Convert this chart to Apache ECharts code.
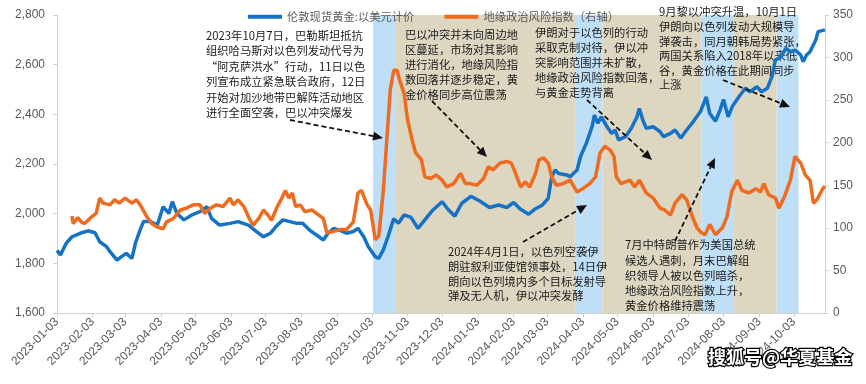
<!DOCTYPE html>
<html><head><meta charset="utf-8">
<script src="https://cdn.jsdelivr.net/npm/echarts@6/dist/echarts.min.js"></script>
<style>html,body{margin:0;padding:0;background:#fff}#c{width:866px;height:384px}</style>
</head><body><div id="c"></div>
<script>
const legendNames = ['伦敦现货黄金:以美元计价', '地缘政治风险指数（右轴）'];

const goldDates = ['2023-01-03','2023-01-06','2023-01-11','2023-01-16','2023-01-23','2023-01-30','2023-02-05','2023-02-09','2023-02-15','2023-02-18','2023-02-24','2023-02-28','2023-03-04','2023-03-09','2023-03-12','2023-03-16','2023-03-19','2023-03-25','2023-03-31','2023-04-05','2023-04-10','2023-04-13','2023-04-17','2023-04-23','2023-04-30','2023-05-07','2023-05-13','2023-05-17','2023-05-24','2023-06-02','2023-06-09','2023-06-18','2023-06-25','2023-07-01','2023-07-07','2023-07-13','2023-07-18','2023-07-24','2023-07-30','2023-08-04','2023-08-10','2023-08-16','2023-08-22','2023-08-26','2023-08-31','2023-09-05','2023-09-11','2023-09-17','2023-09-21','2023-09-26','2023-09-30','2023-10-06','2023-10-09','2023-10-13','2023-10-17','2023-10-22','2023-10-26','2023-10-31','2023-11-06','2023-11-12','2023-11-18','2023-11-25','2023-12-03','2023-12-08','2023-12-14','2023-12-20','2023-12-28','2024-01-05','2024-01-13','2024-01-21','2024-01-28','2024-02-03','2024-02-09','2024-02-16','2024-02-22','2024-02-28','2024-03-04','2024-03-07','2024-03-10','2024-03-13','2024-03-20','2024-03-23','2024-03-29','2024-04-01','2024-04-06','2024-04-11','2024-04-13','2024-04-16','2024-04-19','2024-04-24','2024-04-28','2024-05-01','2024-05-04','2024-05-10','2024-05-15','2024-05-20','2024-05-22','2024-05-25','2024-05-28','2024-06-03','2024-06-09','2024-06-12','2024-06-18','2024-06-22','2024-06-27','2024-07-02','2024-07-08','2024-07-14','2024-07-19','2024-07-22','2024-07-27','2024-07-31','2024-08-03','2024-08-07','2024-08-11','2024-08-17','2024-08-22','2024-08-26','2024-09-01','2024-09-05','2024-09-10','2024-09-14','2024-09-17','2024-09-22','2024-09-26','2024-09-30','2024-10-04','2024-10-09','2024-10-11','2024-10-14','2024-10-17','2024-10-22','2024-10-24','2024-10-30'];
const goldValues = [1852,1834,1881,1907,1921,1931,1923,1887,1867,1847,1813,1827,1840,1820,1881,1934,1968,1968,1954,2028,2001,2048,2001,1975,1995,2008,2028,1981,1954,1961,1968,1954,1928,1907,1921,1954,1975,1968,1961,1961,1934,1914,1894,1921,1941,1934,1921,1928,1941,1907,1867,1827,1820,1854,1907,1980,1961,1995,1985,1941,1975,2015,2048,2018,1990,2042,2070,2050,2025,2035,2025,2045,2018,1998,2020,2035,2062,2149,2176,2162,2156,2149,2176,2230,2283,2350,2397,2364,2390,2350,2323,2337,2297,2310,2344,2390,2424,2377,2344,2350,2330,2310,2323,2337,2305,2337,2372,2411,2470,2404,2372,2417,2460,2390,2435,2475,2505,2491,2511,2491,2505,2552,2619,2632,2666,2652,2659,2639,2612,2639,2652,2699,2733,2740];

const gprDates = ['2023-01-16','2023-01-17','2023-01-21','2023-01-24','2023-01-27','2023-02-02','2023-02-06','2023-02-09','2023-02-12','2023-02-18','2023-02-22','2023-02-26','2023-03-03','2023-03-09','2023-03-13','2023-03-17','2023-03-22','2023-03-26','2023-03-31','2023-04-05','2023-04-08','2023-04-14','2023-04-20','2023-04-25','2023-05-01','2023-05-07','2023-05-11','2023-05-16','2023-05-21','2023-05-27','2023-06-02','2023-06-05','2023-06-09','2023-06-14','2023-06-18','2023-06-22','2023-06-27','2023-07-01','2023-07-05','2023-07-08','2023-07-13','2023-07-17','2023-07-20','2023-07-23','2023-07-26','2023-07-29','2023-08-02','2023-08-06','2023-08-12','2023-08-16','2023-08-22','2023-08-25','2023-08-31','2023-09-05','2023-09-11','2023-09-17','2023-09-21','2023-09-24','2023-09-29','2023-10-02','2023-10-06','2023-10-09','2023-10-13','2023-10-16','2023-10-19','2023-10-22','2023-10-25','2023-10-27','2023-10-31','2023-11-03','2023-11-07','2023-11-10','2023-11-15','2023-11-18','2023-11-23','2023-11-28','2023-12-03','2023-12-07','2023-12-13','2023-12-19','2023-12-23','2023-12-27','2024-01-02','2024-01-08','2024-01-12','2024-01-16','2024-01-22','2024-01-28','2024-02-01','2024-02-04','2024-02-09','2024-02-13','2024-02-17','2024-02-22','2024-02-25','2024-02-29','2024-03-04','2024-03-07','2024-03-11','2024-03-17','2024-03-23','2024-03-29','2024-04-03','2024-04-09','2024-04-14','2024-04-18','2024-04-22','2024-04-27','2024-04-30','2024-05-02','2024-05-06','2024-05-14','2024-05-18','2024-05-22','2024-05-28','2024-06-03','2024-06-09','2024-06-13','2024-06-18','2024-06-22','2024-06-28','2024-07-02','2024-07-07','2024-07-11','2024-07-15','2024-07-18','2024-07-22','2024-07-27','2024-08-02','2024-08-06','2024-08-10','2024-08-15','2024-08-19','2024-08-25','2024-08-31','2024-09-04','2024-09-07','2024-09-11','2024-09-17','2024-09-20','2024-09-25','2024-09-30','2024-10-04','2024-10-09','2024-10-13','2024-10-17','2024-10-20','2024-10-23','2024-10-28','2024-10-30'];
const gprValues = [114,105,112,107,105,113,117,135,129,127,133,129,135,129,133,125,113,105,101,99,107,111,121,123,127,127,117,123,127,125,135,127,133,125,113,103,111,121,115,109,125,135,144,135,141,125,127,119,121,117,111,94,96,98,98,107,141,144,127,121,86,90,144,203,262,285,285,274,258,227,203,188,180,160,158,162,156,148,152,164,152,152,150,158,172,168,176,178,176,166,148,154,148,164,180,182,176,160,150,152,156,142,146,152,160,188,196,191,184,160,152,156,148,156,141,135,123,121,115,129,139,133,113,100,94,92,104,92,100,113,142,156,144,141,146,142,152,139,135,123,137,156,184,176,162,156,129,133,146,149];

const tickLabels = ['2023-01-03','2023-02-03','2023-03-03','2023-04-03','2023-05-03','2023-06-03','2023-07-03','2023-08-03','2023-09-03','2023-10-03','2023-11-03','2023-12-03','2024-01-03','2024-02-03','2024-03-03','2024-04-03','2024-05-03','2024-06-03','2024-07-03','2024-08-03','2024-09-03','2024-10-03'];

const blueBands = [['2023-10-04','2023-10-24'],['2024-03-27','2024-04-20'],['2024-07-15','2024-08-12'],['2024-09-18','2024-10-07']];
const tanBands = [['2023-10-24','2024-03-27'],['2024-04-20','2024-07-15'],['2024-08-12','2024-09-18']];

const notes = [
  {x:206, y:27.5, lh:15.5, text:'2023年10月7日，巴勒斯坦抵抗\n组织哈马斯对以色列发动代号为\n“阿克萨洪水”行动，11日以色\n列宣布成立紧急联合政府，12日\n开始对加沙地带巴解阵活动地区\n进行全面空袭，巴以冲突爆发'},
  {x:405, y:27.5, lh:15, text:'巴以冲突并未向周边地\n区蔓延，市场对其影响\n进行消化，地缘风险指\n数回落并逐步稳定，黄\n金价格同步高位震荡'},
  {x:535, y:25.5, lh:15, text:'伊朗对于以色列的行动\n采取克制对待，伊以冲\n突影响范围并未扩散，\n地缘政治风险指数回落，\n与黄金走势背离'},
  {x:659, y:4.8, lh:14.6, text:'9月黎以冲突升温，10月1日\n伊朗向以色列发动大规模导\n弹袭击，同月朝韩局势紧张，\n两国关系陷入2018年以来低\n谷，黄金价格在此期间同步\n上涨'},
  {x:448, y:244.8, lh:14.6, text:'2024年4月1日，以色列空袭伊\n朗驻叙利亚使馆领事处，14日伊\n朗向以色列境内多个目标发射导\n弹及无人机，伊以冲突发酵'},
  {x:625, y:237.5, lh:15.2, text:'7月中特朗普作为美国总统\n候选人遇刺，月末巴解组\n织领导人被以色列暗杀，\n地缘政治风险指数上升，\n黄金价格维持震荡'}
];
const arrows = [[290,120,383,138],[432,101,487,157],[587,100,652,160],[723,80,790,107],[523,242,587,205],[675,241,715,158]];

function ts(s){const p=s.split('-');return new Date(+p[0],+p[1]-1,+p[2]).getTime();}
function fmt(v){const d=new Date(v);const m=d.getMonth()+1,dd=d.getDate();return d.getFullYear()+'-'+(m<10?'0':'')+m+'-'+(dd<10?'0':'')+dd;}

const graphics = [];
notes.forEach(n=>graphics.push({type:'text', x:n.x, y:n.y, z:1.5, silent:true,
  style:{text:n.text, fill:'#1a1a1a', fontSize:11.3, fontFamily:'Noto Sans CJK SC', lineHeight:n.lh, verticalAlign:'top', align:'left'}}));
arrows.forEach(a=>{
  const [x1,y1,x2,y2]=a; const dx=x2-x1, dy=y2-y1, L=Math.hypot(dx,dy), ux=dx/L, uy=dy/L;
  const hl=10, hw=4.5; const bx=x2-ux*hl, by=y2-uy*hl;
  graphics.push({type:'line', z:10, silent:true, shape:{x1:x1,y1:y1,x2:bx,y2:by}, style:{stroke:'#111', lineWidth:1.8, lineDash:[5,3]}});
  graphics.push({type:'polygon', z:10, silent:true, shape:{points:[[x2,y2],[bx-uy*hw,by+ux*hw],[bx+uy*hw,by-ux*hw]]}, style:{fill:'#111'}});
});
graphics.push({type:'text', x:708, y:357, z:20, silent:true, style:{text:'搜狐号@华夏基金', fontSize:18, fontWeight:'bold', fontFamily:'Noto Sans CJK SC', fill:'#fff', stroke:'#000', lineWidth:2.5, verticalAlign:'middle'}});

const axisCol = '#d0d0d0', labCol = '#595959';
const tickVals = tickLabels.map(ts);
const chart = echarts.init(document.getElementById('c'), null, {renderer:'canvas'});
chart.setOption({
  animation:false,
  backgroundColor:'#fff',
  grid:{left:57, right:41, top:15, bottom:71, containLabel:false},
  legend:{data:legendNames, left:243, top:6, icon:'rect', itemWidth:34, itemHeight:4, itemGap:30,
    textStyle:{fontSize:11.3, color:labCol, fontFamily:'Noto Sans CJK SC'}},
  xAxis:{type:'value', min:ts('2023-01-03'), max:ts('2024-10-30'), scale:true,
    axisLine:{show:true, onZero:false, lineStyle:{color:axisCol}},
    axisTick:{show:true, customValues:tickVals, length:4, lineStyle:{color:axisCol}},
    axisLabel:{customValues:tickVals, rotate:45, formatter:v=>fmt(v), color:labCol, fontSize:12, fontFamily:'Liberation Sans', margin:7, showMinLabel:true, showMaxLabel:true, hideOverlap:false},
    splitLine:{show:false}},
  yAxis:[
    {type:'value', min:1600, max:2800, interval:200, position:'left',
      axisLine:{show:true, lineStyle:{color:axisCol}}, axisTick:{show:true, length:4, lineStyle:{color:axisCol}},
      axisLabel:{formatter:v=>v.toLocaleString('en-US'), color:labCol, fontSize:12, fontFamily:'Liberation Sans', margin:12},
      splitLine:{show:false}},
    {type:'value', min:0, max:350, interval:50, position:'right',
      axisLine:{show:true, lineStyle:{color:axisCol}}, axisTick:{show:true, length:4, lineStyle:{color:axisCol}},
      axisLabel:{color:labCol, fontSize:12, fontFamily:'Liberation Sans', margin:8},
      splitLine:{show:false}}
  ],
  series:[
    {name:'bands', type:'line', data:[], z:1, silent:true,
      markArea:{silent:true, data:
        blueBands.map(b=>[{xAxis:ts(b[0]), itemStyle:{color:'#bfdff6'}},{xAxis:ts(b[1])}]).concat(
        tanBands.map(b=>[{xAxis:ts(b[0]), itemStyle:{color:'#ddd6c1'}},{xAxis:ts(b[1])}]))}},
    {name:legendNames[0], type:'line', yAxisIndex:0, showSymbol:false, z:3,
      data:goldDates.map((d,i)=>[ts(d), goldValues[i]]),
      itemStyle:{color:'#1572c5'}, lineStyle:{color:'#1572c5', width:3.5}},
    {name:legendNames[1], type:'line', yAxisIndex:1, showSymbol:false, z:4,
      data:gprDates.map((d,i)=>[ts(d), gprValues[i]]),
      itemStyle:{color:'#ef6b20'}, lineStyle:{color:'#ef6b20', width:3.5}}
  ],
  graphic:graphics
});
</script></body></html>
